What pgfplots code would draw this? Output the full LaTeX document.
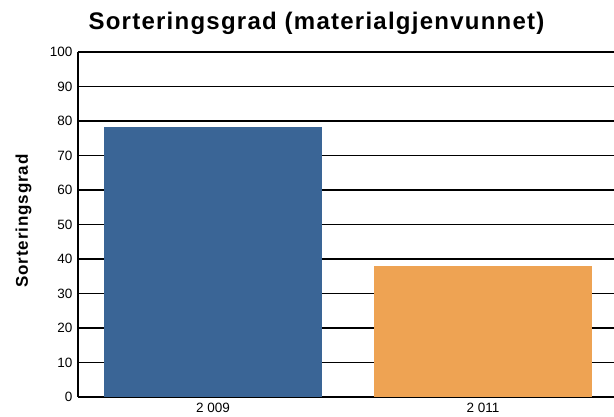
\documentclass[border=0pt]{standalone}
\usepackage{pgfplots}
\pgfplotsset{compat=1.18}
\usepackage{fontspec}
\setmainfont{Liberation Sans}
\definecolor{barblue}{HTML}{3A6596}
\definecolor{barorange}{HTML}{EEA353}
\begin{document}
\begin{tikzpicture}[x=1pt,y=1pt]
\path[use as bounding box] (-78,-20) rectangle (536,397);
\begin{axis}[
  at={(0,0)}, anchor=south west,
  scale only axis, width=536pt, height=345pt,
  xmin=-0.5, xmax=1.485, ymin=0, ymax=100,
  ytick={0,10,...,100},
  xtick={0,1}, xticklabels={2 009, 2 011},
  ymajorgrids, grid style={black, line width=1.3pt},
  axis x line*=bottom, axis y line*=left,
  axis line style={line width=2.4pt, -},
  major tick length=0pt,
  ybar, bar width=218pt,
  tick label style={font=\fontsize{13.5}{15}\selectfont},
  /pgf/number format/assume math mode=true,
  yticklabel style={xshift=-2pt},
  xticklabel style={yshift=-3pt},
]
\addplot[fill=barblue, draw=none, bar shift=0pt] coordinates {(0,78.2)};
\addplot[fill=barorange, draw=none, bar shift=0pt] coordinates {(1,38.1)};
\end{axis}
\node[anchor=base, inner sep=0pt, font=\bfseries\fontsize{24}{28}\selectfont\addfontfeatures{LetterSpace=5.2}] at (238.5,367.5) {Sorteringsgrad (materialgjenvunnet)};
\node[anchor=base, inner sep=0pt, rotate=90, font=\bfseries\fontsize{17}{20}\selectfont\addfontfeatures{LetterSpace=5}] at (-50,176) {Sorteringsgrad};
\end{tikzpicture}
\end{document}
